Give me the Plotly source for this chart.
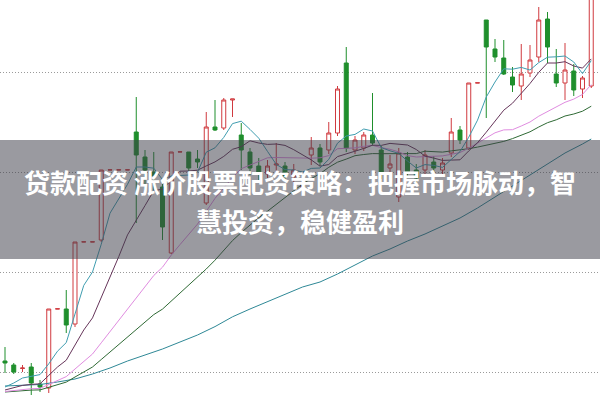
import plotly.graph_objects as go

days = list(range(68))
open_ = [11.1, 10.7, 10.35, 10.5, 8.8, 8.4, 16.3, 16.3, 14.8, 23.0, 23.0, 23.2, 30.2, 30.2, 30.2, 34.0, 31.5, 30.0, 28.5, 21.9,
         32.0, 32.0, 31.3, 26.9, 34.5, 34.4, 37.2, 33.7, 32.0, 30.6, 29.8, 30.7, 30.6, 29.5, 28.5, 31.7, 32.4, 32.2, 33.9, 40.9,
         32.2, 32.4, 33.7, 32.2, 30.4, 27.5, 31.5, 30.2, 30.2, 31.0, 30.2, 31.9, 34.2, 32.4, 38.9, 45.2, 42.3, 41.4, 39.5, 38.6,
         39.9, 41.5, 45.3, 39.8, 38.9, 40.1, 38.3, 38.6]
close = [10.9, 10.0, 10.4, 8.9, 8.5, 16.3, 16.32, 14.7, 23.0, 23.02, 23.02, 30.2, 30.22, 30.22, 30.22, 31.7, 30.2, 29.6, 24.5, 32.0,
         32.02, 30.4, 31.0, 34.5, 34.2, 37.2, 37.3, 32.2, 30.4, 29.8, 30.6, 30.8, 29.6, 30.2, 28.8, 32.4, 31.0, 33.9, 38.3, 32.4,
         33.2, 33.7, 32.9, 30.0, 30.8, 31.9, 29.9, 29.4, 31.7, 30.4, 30.9, 34.0, 33.2, 38.9, 38.92, 42.5, 41.5, 39.8, 38.7, 39.8,
         41.2, 45.2, 42.5, 38.9, 40.2, 38.2, 39.4, 49.0]
high = [12.5, 10.9, 10.7, 10.9, 9.2, 16.3, 16.32, 18.2, 23.0, 23.02, 23.02, 30.2, 30.22, 30.22, 30.22, 37.5, 32.2, 32.0, 28.8, 32.0,
        32.02, 32.0, 32.2, 36.0, 37.2, 37.4, 37.3, 34.9, 32.4, 31.4, 31.2, 32.9, 31.0, 30.8, 29.4, 33.5, 32.8, 35.0, 38.6, 42.5,
        33.6, 34.0, 37.9, 32.6, 31.7, 32.4, 32.0, 30.8, 32.2, 31.6, 31.4, 35.4, 34.6, 38.9, 38.92, 45.2, 43.3, 43.2, 40.5, 42.8,
        42.7, 46.5, 46.0, 42.3, 42.9, 40.8, 39.6, 50.0]
low = [9.9, 9.8, 10.0, 7.7, 8.0, 7.9, 16.3, 13.9, 14.5, 23.0, 23.0, 23.0, 30.2, 30.2, 30.2, 24.9, 28.2, 28.0, 23.2, 21.8,
       32.0, 30.0, 30.4, 26.7, 34.1, 34.2, 35.5, 30.2, 29.7, 29.2, 29.4, 29.9, 29.0, 28.6, 27.8, 30.7, 30.6, 31.8, 33.6, 32.0,
       31.8, 32.1, 32.6, 29.3, 29.7, 27.0, 29.4, 28.8, 29.8, 29.8, 29.7, 31.5, 32.8, 32.2, 38.9, 35.4, 41.0, 39.7, 38.0, 37.2,
       39.5, 41.0, 40.9, 38.5, 37.2, 37.6, 37.4, 38.4]

ma5 = [8.5, 8.9, 9.4, 9.6, 9.74, 10.82, 12.08, 12.94, 15.76, 18.66, 20.0, 22.78, 25.88, 27.32, 28.76, 30.5, 30.5, 30.38, 29.24, 29.6,
       29.66, 29.7, 29.98, 31.98, 32.42, 33.46, 34.84, 35.08, 34.26, 33.38, 32.06, 30.76, 30.24, 30.2, 30.0, 30.36, 30.4, 31.26, 32.88, 33.6,
       33.76, 34.3, 34.1, 32.44, 32.12, 31.86, 31.1, 30.4, 30.74, 30.66, 30.46, 31.28, 32.04, 33.48, 35.18, 37.5, 39.0, 40.32, 40.28, 40.46,
       40.2, 40.94, 41.48, 41.52, 41.6, 41.0, 39.84, 41.14]
ma10 = [8.2, 8.41, 8.66, 8.76, 8.82, 9.66, 10.5, 11.18, 12.69, 14.2, 15.41, 17.43, 19.41, 21.54, 23.71, 25.25, 26.64, 28.13, 28.28, 29.18,
        30.08, 30.1, 30.18, 30.61, 31.01, 31.56, 32.27, 32.53, 33.12, 32.9, 32.76, 32.8, 32.66, 32.23, 31.69, 31.21, 30.58, 30.75, 31.54, 31.8,
        32.06, 32.35, 32.68, 32.66, 32.86, 32.81, 32.7, 32.25, 31.59, 31.39, 31.16, 31.19, 31.22, 32.11, 32.92, 33.98, 35.14, 36.18, 36.88, 37.82,
        38.85, 39.97, 40.9, 40.9, 41.03, 40.6, 40.39, 41.31]
ma20 = [8.05, 8.15, 8.28, 8.33, 8.36, 8.78, 9.2, 9.54, 10.3, 11.05, 11.8, 12.92, 14.03, 15.15, 16.26, 17.45, 18.57, 19.65, 20.48, 21.69,
        22.74, 23.76, 24.79, 26.07, 27.36, 28.4, 29.45, 30.33, 30.7, 31.04, 31.42, 31.45, 31.42, 31.42, 31.35, 31.38, 31.42, 31.64, 32.33, 32.35,
        32.41, 32.57, 32.67, 32.44, 32.27, 32.01, 31.64, 31.5, 31.56, 31.6, 31.61, 31.77, 31.95, 32.38, 32.89, 33.4, 33.92, 34.21, 34.23, 34.6,
        35.0, 35.58, 36.06, 36.5, 36.97, 37.29, 37.76, 38.74]
ma30 = [8.0, 8.07, 8.15, 8.19, 8.21, 8.49, 8.77, 8.99, 9.5, 10.0, 10.5, 11.25, 11.99, 12.73, 13.48, 14.27, 15.01, 15.74, 16.29, 17.09,
        17.9, 18.65, 19.42, 20.3, 21.18, 22.16, 23.14, 23.95, 24.7, 25.43, 26.08, 26.78, 27.42, 28.13, 28.8, 29.34, 29.83, 30.47, 30.98, 31.29,
        31.63, 31.75, 31.84, 31.83, 31.85, 31.86, 31.85, 31.84, 32.08, 32.03, 31.99, 32.11, 32.19, 32.33, 32.49, 32.67, 32.81, 33.06, 33.34, 33.67,
        34.02, 34.5, 34.93, 35.22, 35.6, 35.8, 36.08, 36.58]
ma60_days = [0, 2, 4, 6, 8, 10, 12, 14, 16, 18, 20, 22, 24, 26, 28, 30, 32, 34, 36, 38, 40, 42, 44, 46, 48, 50, 52, 54, 56, 58,
             60, 62, 64, 66, 67]
ma60 = [8.6, 8.65, 8.75, 9.0, 9.3, 9.8, 10.4, 11.1, 11.7, 12.3, 13.0, 13.7, 14.54, 15.52, 16.3, 17.04, 17.78, 18.5, 19.0, 19.8,
        20.7, 21.6, 22.3, 23.1, 23.8, 24.6, 25.4, 26.4, 27.5, 28.6, 29.7, 30.8, 31.9, 32.8, 33.3]

title_line1 = "贷款配资 涨价股票配资策略：把握市场脉动，智"
title_line2 = "慧投资，稳健盈利"

RED = "#d03a3f"
GREEN = "#1f8f2c"

fig = go.Figure()
fig.add_trace(go.Candlestick(
    x=days, open=open_, high=high, low=low, close=close,
    increasing=dict(line=dict(color=RED, width=1), fillcolor="white"),
    decreasing=dict(line=dict(color=GREEN, width=1), fillcolor=GREEN),
    whiskerwidth=0, showlegend=False, hoverinfo="skip",
))
for ys, xs, col in [(ma60, ma60_days, "#2e8896"), (ma30, days, "#2f6a35"), (ma20, days, "#e08ce0"),
                    (ma10, days, "#66355a"), (ma5, days, "#3f9db0")]:
    fig.add_trace(go.Scatter(x=xs, y=ys, mode="lines", line=dict(color=col, width=1),
                             showlegend=False, hoverinfo="skip"))

fig.add_shape(type="rect", xref="paper", yref="paper", x0=0, x1=1, y0=1 - 259 / 400, y1=1 - 140 / 400,
              fillcolor="rgba(62,62,72,0.52)", line=dict(width=0), layer="above")
for txt, yc in [(title_line1, 1 - 181 / 400), (title_line2, 1 - 220 / 400)]:
    fig.add_annotation(text=txt, xref="paper", yref="paper", x=0.5, y=yc, xanchor="center", yanchor="middle",
                       showarrow=False,
                       font=dict(family="Noto Sans CJK SC", size=26, color="white", weight="bold"))

fig.update_layout(
    width=600, height=400, margin=dict(l=0, r=0, t=0, b=0),
    paper_bgcolor="white", plot_bgcolor="white", boxgap=0.35,
    xaxis=dict(range=[-0.571, 68.0], showgrid=False, zeroline=False, showticklabels=False,
               ticks="", rangeslider=dict(visible=False), showline=False),
    yaxis=dict(range=[7.2, 47.2], tick0=0, dtick=10, showgrid=True, gridcolor="#9a9a9a", gridwidth=1,
               griddash="1px,2px", zeroline=False, showticklabels=False, ticks="", showline=False),
)
fig.write_html("out.html", config={"displayModeBar": False},
               post_script="document.body.style.margin='0';document.body.style.overflow='hidden';")
